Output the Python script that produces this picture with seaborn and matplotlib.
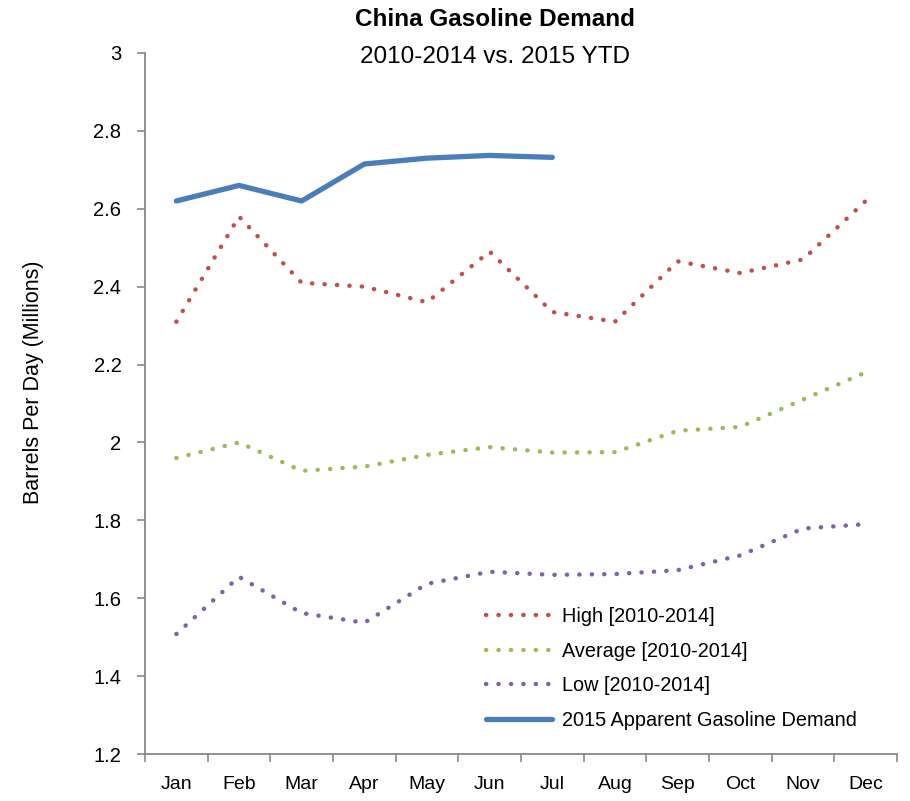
import matplotlib
matplotlib.use("Agg")
import matplotlib.pyplot as plt
import seaborn as sns
import pandas as pd
import numpy as np

months = ["Jan", "Feb", "Mar", "Apr", "May", "Jun", "Jul", "Aug", "Sep", "Oct", "Nov", "Dec"]
high = [2.31, 2.58, 2.41, 2.40, 2.36, 2.49, 2.335, 2.31, 2.465, 2.435, 2.47, 2.62]
average = [1.96, 2.00, 1.927, 1.938, 1.968, 1.988, 1.974, 1.975, 2.03, 2.04, 2.11, 2.18]
low = [1.508, 1.655, 1.562, 1.537, 1.637, 1.668, 1.66, 1.662, 1.672, 1.71, 1.779, 1.79]
demand_2015 = [2.62, 2.66, 2.62, 2.715, 2.73, 2.737, 2.732]

series_names = ["High [2010-2014]", "Average [2010-2014]", "Low [2010-2014]",
                "2015 Apparent Gasoline Demand"]
colors = ["#C0504D", "#9BBB59", "#8064A2", "#4A7EBB"]
yticks = [1.2, 1.4, 1.6, 1.8, 2.0, 2.2, 2.4, 2.6, 2.8, 3.0]
ytick_labels = ["1.2", "1.4", "1.6", "1.8", "2", "2.2", "2.4", "2.6", "2.8", "3"]

sns.set_style("white")
plt.rcParams["font.family"] = ["Liberation Sans Narrow", "Liberation Sans", "DejaVu Sans"]
plt.rcParams["text.color"] = "black"
plt.rcParams["axes.labelcolor"] = "black"
plt.rcParams["xtick.color"] = "black"
plt.rcParams["ytick.color"] = "black"

fig = plt.figure(figsize=(9.10, 8.01), dpi=100)
ax = fig.add_axes([145 / 910, 1 - 754 / 801, (897 - 145) / 910, (754 - 53) / 801])

rows = []
for name, vals in zip(series_names, [high, average, low, demand_2015]):
    for i, v in enumerate(vals):
        rows.append({"series": name, "x": i, "value": v})
df = pd.DataFrame(rows)

for name, col in zip(series_names, colors):
    sub = df[df["series"] == name]
    if name.startswith("2015"):
        sns.lineplot(data=sub, x="x", y="value", ax=ax, color=col, linewidth=3.8,
                     label=name, solid_capstyle="round", solid_joinstyle="round")
    else:
        sns.lineplot(data=sub, x="x", y="value", ax=ax, color=col, linewidth=3.2,
                     label=name, linestyle=(0, (0.05, 2.75)), dash_capstyle="round")

ax.set_xlim(-0.5, 11.5)
ax.set_ylim(1.2, 3.0)
ax.set_yticks(yticks)
ax.set_yticklabels(ytick_labels)
ax.set_xticks(range(12))
ax.set_xticklabels(months)
ax.set_xticks(np.arange(-0.5, 12, 1), minor=True)
ax.tick_params(axis="x", which="major", bottom=True, length=0, pad=16, labelsize=14)
ax.tick_params(axis="x", which="minor", bottom=True, length=6, tickdir="out",
               color="#888888", width=1.2)
ax.tick_params(axis="y", which="major", left=True, length=6, tickdir="out",
               color="#888888", width=1.2, pad=11, labelsize=14.5)
ax.set_xlabel("")
ax.set_ylabel("Barrels Per Day (Millions)", fontsize=15.5)
ax.yaxis.set_label_coords(-0.134, 0.53)
for s in ["top", "right"]:
    ax.spines[s].set_visible(False)
for s in ["left", "bottom"]:
    ax.spines[s].set_color("#888888")
    ax.spines[s].set_linewidth(1.3)

leg = ax.legend(loc="lower left", bbox_to_anchor=(0.43, 0.009), frameon=False, fontsize=14.3,
                handlelength=3.3, labelspacing=0.78, handletextpad=0.5)

fig.text(495 / 910, 1 - 20 / 801, "China Gasoline Demand", ha="center", va="center",
         fontsize=17.5, fontweight="bold")
fig.text(495 / 910, 1 - 57 / 801, "2010-2014 vs. 2015 YTD", ha="center", va="center",
         fontsize=17.5)

fig.savefig("out.png", dpi=100)
